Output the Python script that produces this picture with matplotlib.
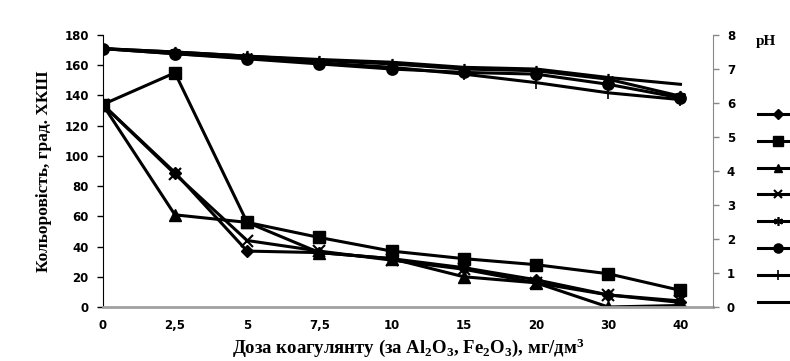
import numpy as np
import matplotlib
matplotlib.use('Agg')
import matplotlib.pyplot as plt

# coagulant dose categories (evenly spaced on the chart)
doses = ['0', '2,5', '5', '7,5', '10', '15', '20', '30', '40']

# colour, grad. (left axis)
colour_diamond = [134, 89, 37, 36, 32, 26, 18, 8, 3]
colour_square = [134, 155, 56, 46, 37, 32, 28, 22, 11]
colour_triangle = [134, 61, 56, 36, 32, 20, 16, 0, 1]
colour_x = [134, 88, 44, 37, 31, 25, 16, 8, 4]

# pH (right axis)
ph_star = [7.6, 7.5, 7.38, 7.25, 7.15, 7.0, 6.95, 6.7, 6.2]
ph_circle = [7.6, 7.45, 7.3, 7.15, 7.0, 6.9, 6.85, 6.55, 6.15]
ph_plus = [7.6, 7.45, 7.33, 7.18, 7.05, 6.85, 6.6, 6.3, 6.1]
ph_line = [7.6, 7.5, 7.38, 7.28, 7.2, 7.05, 7.0, 6.75, 6.55]

serif_bold = dict(family='Liberation Serif', weight='bold')
plt.rcParams['mathtext.fontset'] = 'custom'
plt.rcParams['mathtext.rm'] = 'Liberation Serif:bold'
plt.rcParams['mathtext.it'] = 'Liberation Serif:bold'
plt.rcParams['mathtext.bf'] = 'Liberation Serif:bold'

fig = plt.figure(figsize=(7.9, 3.61), dpi=100)
ax = fig.add_axes([0.130, 0.1496, 0.7725, 0.7534])
ax2 = ax.twinx()

x = np.arange(len(doses))
lw = 2.2
handles = []
for vals, m, ms in [(colour_diamond, 'D', 6), (colour_square, 's', 8.5),
                    (colour_triangle, '^', 8), (colour_x, 'x', 8)]:
    h, = ax.plot(x, vals, color='black', lw=lw, marker=m, markersize=ms,
                 markeredgewidth=1.5 if m == 'x' else 1)
    handles.append(h)
for vals, m, ms in [(ph_star, (6, 2, 0), 8), (ph_circle, 'o', 8),
                    (ph_plus, '|', 9), (ph_line, None, 0)]:
    h, = ax2.plot(x, vals, color='black', lw=lw, marker=m, markersize=ms,
                  markeredgewidth=1.2)
    handles.append(h)

ax.set_xlim(0, 8.45)
ax.set_ylim(0, 180)
ax.set_yticks(range(0, 181, 20))
ax2.set_ylim(0, 8)
ax2.set_yticks(range(0, 9))
ax.set_xticks(x)
ax.set_xticklabels(doses)

for lab in ax.get_xticklabels() + ax.get_yticklabels() + ax2.get_yticklabels():
    lab.set_fontfamily('DejaVu Sans')
    lab.set_fontweight('bold')
    lab.set_fontsize(8.5)

ax.tick_params(axis='x', length=0, pad=9)
ax.tick_params(axis='y', length=4, width=1, direction='out', pad=6)
ax2.tick_params(axis='y', length=4, width=1, direction='out', color='#888888', pad=6)

ax.spines['top'].set_visible(False)
ax2.spines['top'].set_visible(False)
ax.spines['right'].set_visible(False)
ax2.spines['left'].set_visible(False)
ax2.spines['bottom'].set_visible(False)
ax.spines['bottom'].set_color('#a0a0a0')
ax.spines['bottom'].set_linewidth(2)
ax.spines['left'].set_color('black')
ax2.spines['right'].set_color('#888888')

ax.set_ylabel('Кольоровість, град. ХКШ', fontsize=12.5, labelpad=9, **serif_bold)
ax.set_xlabel('Доза коагулянту (за Al$_2$O$_3$, Fe$_2$O$_3$), мг/дм$^3$',
              fontsize=13.5, labelpad=3, **serif_bold)
fig.text(0.970, 0.885, 'pH', fontsize=11, ha='center', va='center', **serif_bold)

fig.legend(handles, [' '] * len(handles), loc='upper left',
           bbox_to_anchor=(0.951, 0.72), frameon=False, borderpad=0,
           handlelength=2.8, labelspacing=0.92, fontsize=10, handletextpad=0.3,
           markerscale=0.8)

fig.savefig('out.png', dpi=100)
